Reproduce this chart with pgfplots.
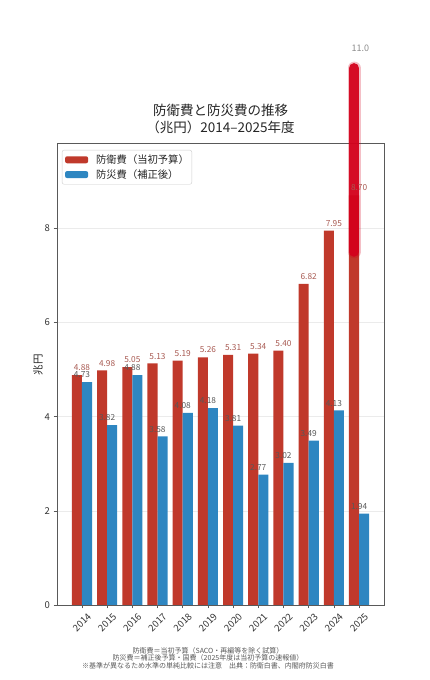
\documentclass[border=0pt]{standalone}
\usepackage{pgfplots}
\pgfplotsset{compat=1.18}
\usepackage{fontspec}
\setmainfont{Noto Sans CJK JP}
\definecolor{defred}{HTML}{C0392B}
\definecolor{disblue}{HTML}{2E86C1}
\definecolor{redlab}{HTML}{A85A52}
\definecolor{graylab}{HTML}{585858}
\definecolor{marker}{HTML}{D3021C}
\begin{document}
\begin{tikzpicture}[x=1pt,y=1pt]
\path (0,0) rectangle (429,680);
\begin{axis}[
  at={(57pt,75pt)}, anchor=south west, scale only axis,
  width=327pt, height=462pt,
  xmin=-0.99, xmax=11.99, ymin=0, ymax=9.81,
  clip=false,
  /pgf/number format/assume math mode=true,
  xtick={0,1,2,3,4,5,6,7,8,9,10,11},
  xticklabels={2014,2015,2016,2017,2018,2019,2020,2021,2022,2023,2024,2025},
  ytick={0,2,4,6,8},
  xtick pos=bottom, ytick pos=left, tick align=outside,
  major tick length=3.5pt,
  tick style={black!65, line width=0.6pt},
  axis line style={black!65, line width=0.8pt},
  ymajorgrids, grid style={black!8, line width=0.5pt},
  ticklabel style={font=\fontsize{9.5}{10}\selectfont, text=black!80},
  xticklabel style={yshift=-14pt, rotate=45, anchor=center},
  ylabel={兆円},
  ylabel style={at={(axis description cs:-0.058,0.52)}, anchor=center, font=\fontsize{10.5}{11}\selectfont, text=black!85},
  title={防衛費と防災費の推移\\（兆円）2014–2025年度},
  title style={at={(0.5,1)}, anchor=south, yshift=0pt, align=center, font=\fontsize{13.5}{17}\selectfont, text=black!85},
  legend style={at={(0.015,0.985)}, anchor=north west, draw=black!20, rounded corners=2pt, fill=white, font=\fontsize{10.3}{11}\selectfont, text=black!85, inner xsep=1pt, inner ysep=2.5pt, row sep=0.5pt},
  legend cell align=left,
]
\addplot[ybar, bar width=0.4, bar shift=-0.2, fill=defred, draw=none,
  legend image code/.code={\fill[defred] (2pt,-3.5pt) rectangle (25pt,3.5pt); \path (0pt,0pt) (31pt,0pt);},
  nodes near coords={\pgfmathprintnumber[fixed,fixed zerofill,precision=2]{\pgfplotspointmeta}},
  nodes near coords style={font=\fontsize{8.3}{8}\selectfont, text=redlab, inner sep=1pt, yshift=3pt}]
coordinates {(0,4.88) (1,4.98) (2,5.05) (3,5.13) (4,5.19) (5,5.26) (6,5.31) (7,5.34) (8,5.40) (9,6.82) (10,7.95) (11,8.70)};
\addlegendentry{防衛費（当初予算）}
\addplot[ybar, bar width=0.4, bar shift=0.2, fill=disblue, draw=none,
  legend image code/.code={\fill[disblue] (2pt,-3.5pt) rectangle (25pt,3.5pt); \path (0pt,0pt) (31pt,0pt);},
  nodes near coords={\pgfmathprintnumber[fixed,fixed zerofill,precision=2]{\pgfplotspointmeta}},
  nodes near coords style={font=\fontsize{8.3}{8}\selectfont, text=graylab, inner sep=1pt, yshift=3pt}]
coordinates {(0,4.73) (1,3.82) (2,4.88) (3,3.58) (4,4.08) (5,4.18) (6,3.81) (7,2.77) (8,3.02) (9,3.49) (10,4.13) (11,1.94)};
\addlegendentry{防災費（補正後）}
\addplot[marker, line width=13pt, line cap=round, opacity=0.25, forget plot] coordinates {(10.8,7.5) (10.8,11.4)};
\addplot[marker, line width=10pt, line cap=round, opacity=0.95, forget plot] coordinates {(10.8,7.5) (10.8,11.4)};
\node[text=black!45, font=\fontsize{9}{9}\selectfont] at (axis cs:11.05,11.83) {11.0};
\end{axis}
\node[align=center, text=graylab, font=\fontsize{7}{7.6}\selectfont] at (208,22)
  {防衛費＝当初予算（SACO・再編等を除く試算）\\防災費＝補正後予算・国費（2025年度は当初予算の速報値）\\※基準が異なるため水準の単純比較には注意　出典：防衛白書、内閣府防災白書};
\end{tikzpicture}
\end{document}
